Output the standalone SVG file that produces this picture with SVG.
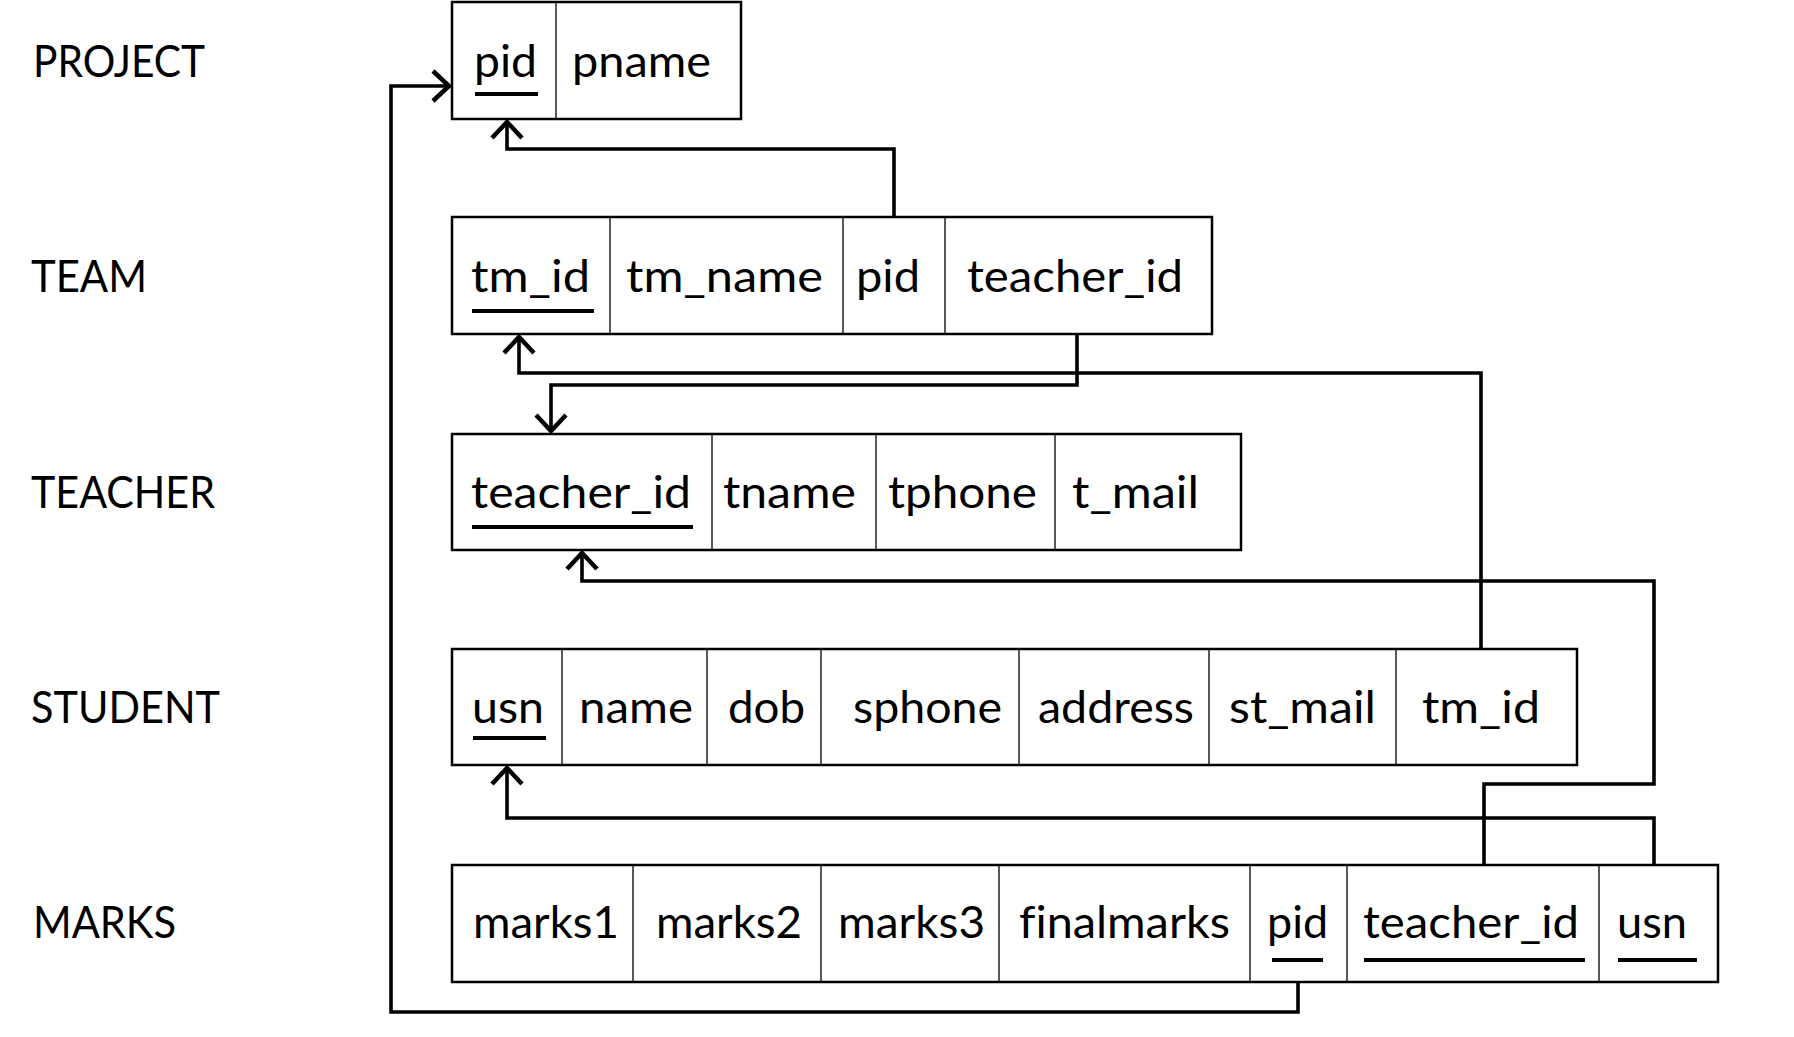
<svg xmlns="http://www.w3.org/2000/svg" width="1794" height="1037" viewBox="0 0 1794 1037">
<style>
.box{fill:#fff;stroke:#000;stroke-width:2.5}
.div{stroke:#000;stroke-width:1.3}
.t{font-family:Lato,"Liberation Sans",sans-serif;font-size:45px;fill:#000;font-variant-ligatures:none}
.u{stroke:#000;stroke-width:4}
.c{fill:none;stroke:#000;stroke-width:3.6;stroke-linejoin:miter}
</style>
<defs>
<marker id="arr" markerUnits="userSpaceOnUse" markerWidth="40" markerHeight="40" viewBox="-20 -20 40 40" refX="0" refY="0" orient="auto" overflow="visible">
<path d="M-16,-15 L0,0 L-16,15" fill="none" stroke="#000" stroke-width="4.5"/>
</marker>
</defs>
<rect width="1794" height="1037" fill="#fff"/>
<g id="labels">
<text class="t" x="33" y="77" textLength="172" lengthAdjust="spacingAndGlyphs">PROJECT</text>
<text class="t" x="31" y="292" textLength="116" lengthAdjust="spacingAndGlyphs">TEAM</text>
<text class="t" x="31" y="508" textLength="184" lengthAdjust="spacingAndGlyphs">TEACHER</text>
<text class="t" x="31" y="723" textLength="189" lengthAdjust="spacingAndGlyphs">STUDENT</text>
<text class="t" x="33" y="938" textLength="143" lengthAdjust="spacingAndGlyphs">MARKS</text>
</g>
<g id="project">
<rect class="box" x="452" y="2" width="289" height="117"/>
<line class="div" x1="556" y1="2" x2="556" y2="119"/>
<text class="t" x="474" y="77" textLength="63" lengthAdjust="spacingAndGlyphs">pid</text>
<line class="u" x1="475" y1="94" x2="538" y2="94"/>
<text class="t" x="572" y="77" textLength="139" lengthAdjust="spacingAndGlyphs">pname</text>
</g>
<g id="team">
<rect class="box" x="452" y="217" width="760" height="117"/>
<line class="div" x1="610" y1="217" x2="610" y2="334"/>
<line class="div" x1="843" y1="217" x2="843" y2="334"/>
<line class="div" x1="945" y1="217" x2="945" y2="334"/>
<text class="t" x="471" y="292" textLength="119" lengthAdjust="spacingAndGlyphs">tm_id</text>
<line class="u" x1="472" y1="311" x2="594" y2="311"/>
<text class="t" x="626" y="292" textLength="197" lengthAdjust="spacingAndGlyphs">tm_name</text>
<text class="t" x="856" y="292" textLength="64" lengthAdjust="spacingAndGlyphs">pid</text>
<text class="t" x="967" y="292" textLength="216" lengthAdjust="spacingAndGlyphs">teacher_id</text>
</g>
<g id="teacher">
<rect class="box" x="452" y="434" width="789" height="116"/>
<line class="div" x1="712" y1="434" x2="712" y2="550"/>
<line class="div" x1="876" y1="434" x2="876" y2="550"/>
<line class="div" x1="1055" y1="434" x2="1055" y2="550"/>
<text class="t" x="471" y="508" textLength="220" lengthAdjust="spacingAndGlyphs">teacher_id</text>
<line class="u" x1="472" y1="527" x2="693" y2="527"/>
<text class="t" x="723" y="508" textLength="133" lengthAdjust="spacingAndGlyphs">tname</text>
<text class="t" x="888" y="508" textLength="149" lengthAdjust="spacingAndGlyphs">tphone</text>
<text class="t" x="1072" y="508" textLength="127" lengthAdjust="spacingAndGlyphs">t_mail</text>
</g>
<g id="student">
<rect class="box" x="452" y="649" width="1125" height="116"/>
<line class="div" x1="562" y1="649" x2="562" y2="765"/>
<line class="div" x1="707" y1="649" x2="707" y2="765"/>
<line class="div" x1="821" y1="649" x2="821" y2="765"/>
<line class="div" x1="1019" y1="649" x2="1019" y2="765"/>
<line class="div" x1="1209" y1="649" x2="1209" y2="765"/>
<line class="div" x1="1396" y1="649" x2="1396" y2="765"/>
<text class="t" x="472" y="723" textLength="72" lengthAdjust="spacingAndGlyphs">usn</text>
<line class="u" x1="473" y1="738" x2="546" y2="738"/>
<text class="t" x="579" y="723" textLength="114" lengthAdjust="spacingAndGlyphs">name</text>
<text class="t" x="728" y="723" textLength="77" lengthAdjust="spacingAndGlyphs">dob</text>
<text class="t" x="853" y="723" textLength="149" lengthAdjust="spacingAndGlyphs">sphone</text>
<text class="t" x="1038" y="723" textLength="156" lengthAdjust="spacingAndGlyphs">address</text>
<text class="t" x="1229" y="723" textLength="147" lengthAdjust="spacingAndGlyphs">st_mail</text>
<text class="t" x="1422" y="723" textLength="118" lengthAdjust="spacingAndGlyphs">tm_id</text>
</g>
<g id="marks">
<rect class="box" x="452" y="865" width="1266" height="117"/>
<line class="div" x1="633" y1="865" x2="633" y2="982"/>
<line class="div" x1="821" y1="865" x2="821" y2="982"/>
<line class="div" x1="999" y1="865" x2="999" y2="982"/>
<line class="div" x1="1250" y1="865" x2="1250" y2="982"/>
<line class="div" x1="1347" y1="865" x2="1347" y2="982"/>
<line class="div" x1="1599" y1="865" x2="1599" y2="982"/>
<text class="t" x="473" y="938" textLength="146" lengthAdjust="spacingAndGlyphs">marks1</text>
<text class="t" x="656" y="938" textLength="146" lengthAdjust="spacingAndGlyphs">marks2</text>
<text class="t" x="838" y="938" textLength="147" lengthAdjust="spacingAndGlyphs">marks3</text>
<text class="t" x="1019" y="938" textLength="211" lengthAdjust="spacingAndGlyphs">finalmarks</text>
<text class="t" x="1267" y="938" textLength="61" lengthAdjust="spacingAndGlyphs">pid</text>
<line class="u" x1="1272" y1="960" x2="1323" y2="960"/>
<text class="t" x="1363" y="938" textLength="216" lengthAdjust="spacingAndGlyphs">teacher_id</text>
<line class="u" x1="1364" y1="960" x2="1585" y2="960"/>
<text class="t" x="1617" y="938" textLength="70" lengthAdjust="spacingAndGlyphs">usn</text>
<line class="u" x1="1618" y1="960" x2="1697" y2="960"/>
</g>
<g id="connectors">
<path class="c" d="M894,217 V149 H507 V122" marker-end="url(#arr)"/>
<path class="c" d="M1481,649 V373 H519 V337" marker-end="url(#arr)"/>
<path class="c" d="M1077,334 V385 H551 V431" marker-end="url(#arr)"/>
<path class="c" d="M1484,865 V784 H1654 V581 H582 V553" marker-end="url(#arr)"/>
<path class="c" d="M1654,865 V818 H507 V768" marker-end="url(#arr)"/>
<path class="c" d="M1298,982 V1012 H391 V86 H449" marker-end="url(#arr)"/>
</g>
</svg>
